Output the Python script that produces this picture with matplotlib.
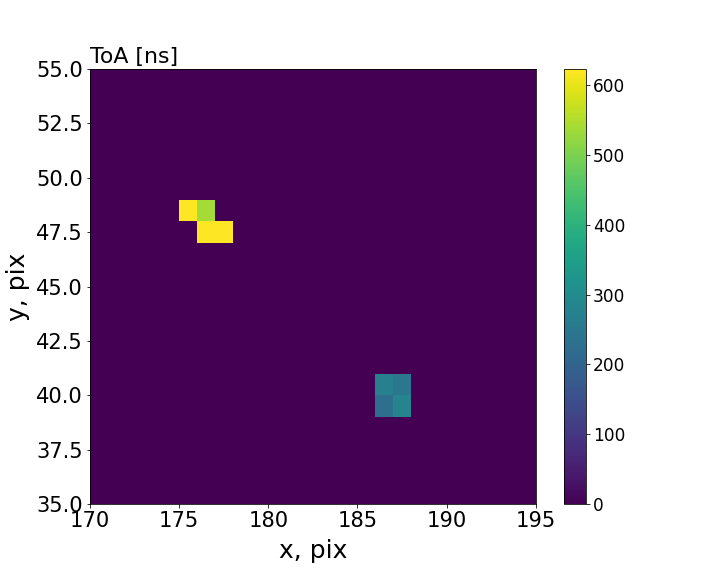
import numpy as np
import matplotlib
matplotlib.use("Agg")
import matplotlib.pyplot as plt

# Pixel hits (column, row) and their time of arrival in ns
hit_x = [175, 176, 176, 177, 186, 187, 186, 187]
hit_y = [48, 48, 47, 47, 40, 40, 39, 39]
hit_toa = [623, 540, 623, 623, 268, 248, 225, 280]

x_range = (170, 195)
y_range = (35, 55)

# Build the ToA map
x_edges = np.arange(x_range[0], x_range[1] + 1)
y_edges = np.arange(y_range[0], y_range[1] + 1)
toa_map = np.zeros((len(y_edges) - 1, len(x_edges) - 1))
for x, y, t in zip(hit_x, hit_y, hit_toa):
    toa_map[y - y_range[0], x - x_range[0]] = t

fig = plt.figure(figsize=(10, 8), dpi=72)
ax = fig.add_axes([0.125, 0.125, 0.619, 0.755])
cax = fig.add_axes([0.784, 0.125, 0.030, 0.755])

mesh = ax.pcolormesh(x_edges, y_edges, toa_map, cmap="viridis", vmin=0, vmax=max(hit_toa))
ax.set_xlim(*x_range)
ax.set_ylim(*y_range)
ax.set_xticks(np.arange(170, 196, 5))
ax.set_yticks(np.arange(35, 55.1, 2.5))
ax.tick_params(labelsize=21)
ax.set_xlabel("x, pix", fontsize=25, labelpad=8)
ax.set_ylabel("y, pix", fontsize=25, labelpad=6)
ax.set_title("ToA [ns]", loc="left", fontsize=22)

cbar = fig.colorbar(mesh, cax=cax)
cbar.ax.tick_params(labelsize=17)

fig.savefig("out.png", dpi=72)
